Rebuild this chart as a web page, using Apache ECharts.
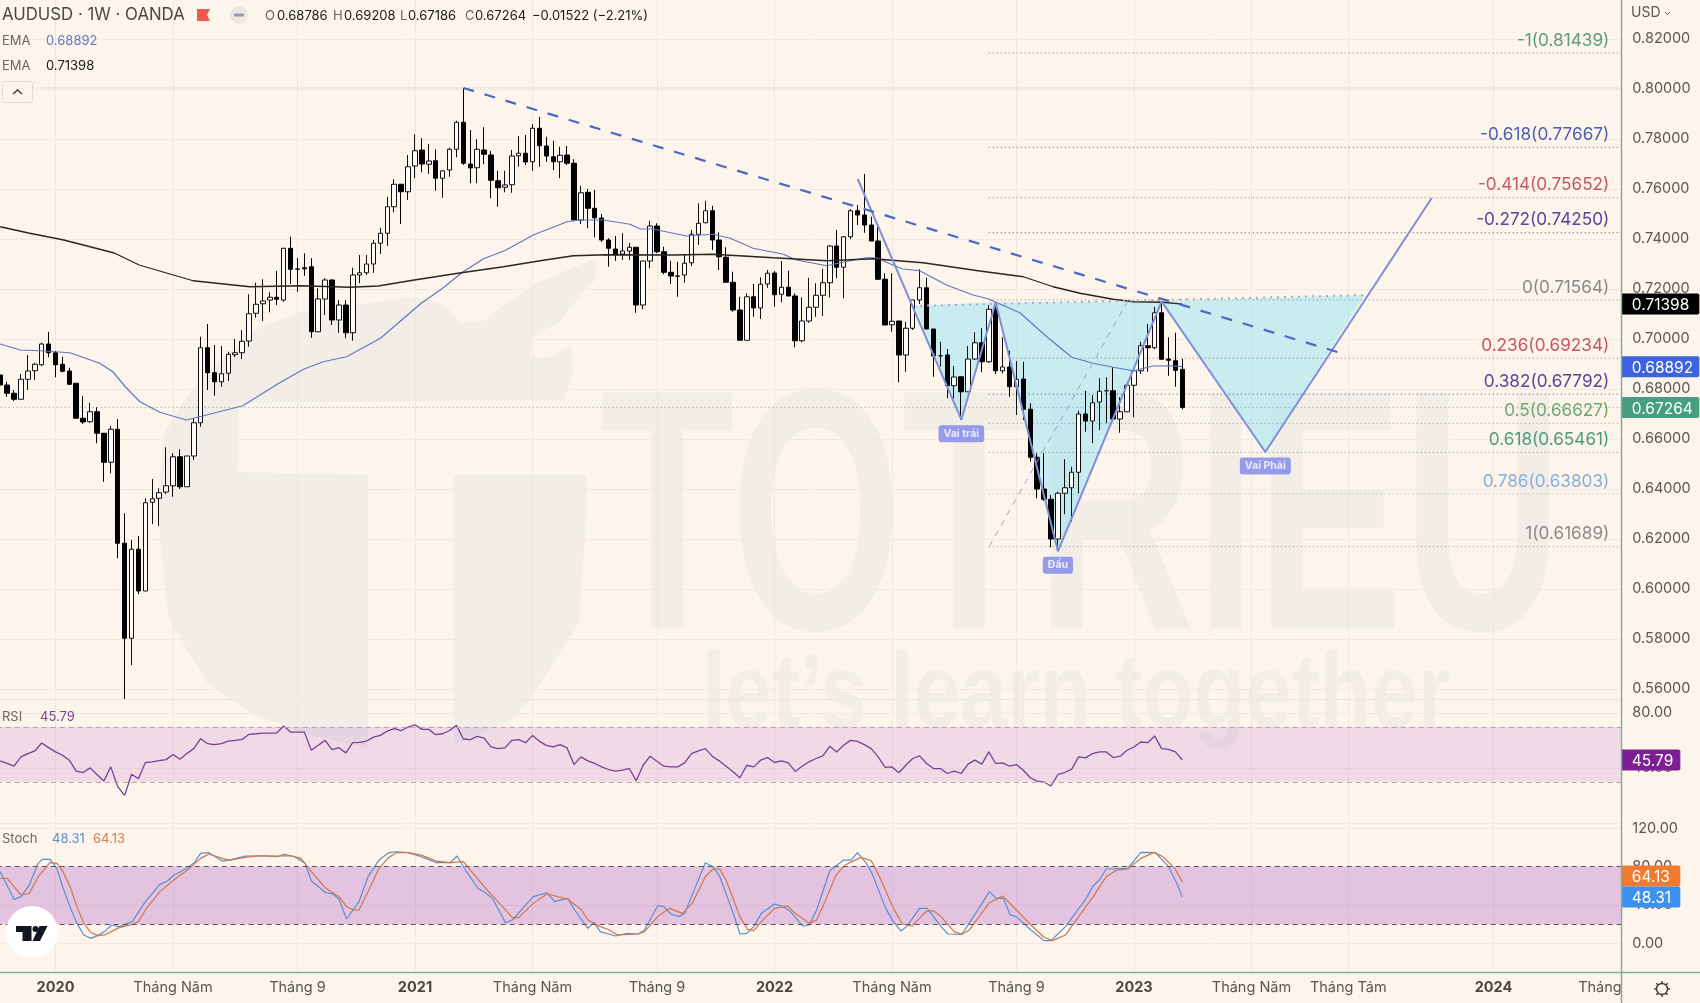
<!DOCTYPE html>
<html>
<head>
<meta charset="utf-8">
<title>AUDUSD 1W</title>
<script src="https://cdn.jsdelivr.net/npm/echarts@6/dist/echarts.min.js"></script>
<style>
  html, body { margin: 0; padding: 0; background: #fdf4eb; }
  #main { width: 1700px; height: 1003px; }
</style>
</head>
<body>
<div id="main"></div>
<script>
// weekly candles, index 0 is the first bar on screen
var opens = [.6856,.6816,.6783,.6759,.6839,.6873,.6897,.6980,.6945,.6899,
  .6872,.6823,.6683,.6669,.6709,.6623,.6507,.6639,.6183,.5803,
  .6159,.5992,.6347,.6363,.6388,.6413,.6529,.6409,.6532,.6665,
  .6965,.6865,.6829,.6863,.6937,.6945,.6992,.7103,.7141,.7156,
  .7167,.7156,.7363,.7280,.7285,.7289,.7029,.7160,.7236,.7076,
  .7136,.7025,.7256,.7265,.7300,.7383,.7423,.7529,.7619,.7589,
  .7692,.7756,.7699,.7713,.7643,.7676,.7759,.7867,.7700,.7685,
  .7756,.7736,.7633,.7607,.7617,.7733,.7743,.7709,.7843,.7772,
  .7729,.7709,.7736,.7703,.7476,.7587,.7523,.7484,.7396,.7360,
  .7340,.7352,.7367,.7136,.7312,.7452,.7349,.7267,.7252,.7256,
  .7305,.7419,.7465,.7513,.7396,.7327,.7227,.7116,.6995,.7169,
  .7124,.7220,.7264,.7179,.7207,.7172,.6993,.7072,.7127,.7175,
  .7225,.7372,.7287,.7409,.7513,.7496,.7456,.7392,.7239,.7057,
  .7072,.6936,.7043,.7156,.7205,.7040,.6933,.6936,.6813,.6849,
  .6789,.6920,.6985,.6909,.7119,.6873,.6888,.6809,.6840,.6719,
  .6527,.6400,.6359,.6200,.6383,.6405,.6467,.6700,.6672,.6748,
  .6793,.6793,.6680,.6709,.6815,.6873,.6973,.6965,.7105,.6920,
  .6913,.68786];
var closes = [.6816,.6783,.6759,.6839,.6872,.6899,.6980,.6945,.6897,.6871,
  .6819,.6683,.6668,.6709,.6623,.6507,.6639,.6183,.5803,.6159,
  .5992,.6345,.6361,.6385,.6413,.6529,.6409,.6532,.6665,.6965,
  .6865,.6829,.6861,.6939,.6945,.6991,.7101,.7139,.7152,.7167,
  .7159,.7363,.7279,.7279,.7281,.7029,.7160,.7236,.7076,.7136,
  .7025,.7256,.7265,.7300,.7383,.7423,.7529,.7619,.7589,.7689,
  .7753,.7700,.7712,.7643,.7673,.7759,.7867,.7703,.7684,.7759,
  .7739,.7635,.7605,.7616,.7732,.7743,.7708,.7843,.7773,.7732,
  .7709,.7735,.7703,.7476,.7585,.7523,.7485,.7396,.7363,.7336,
  .7352,.7367,.7136,.7312,.7452,.7349,.7267,.7252,.7251,.7303,
  .7419,.7463,.7513,.7396,.7329,.7227,.7116,.6995,.7169,.7124,
  .7219,.7263,.7177,.7207,.7172,.6993,.7072,.7127,.7175,.7225,
  .7372,.7287,.7409,.7513,.7496,.7456,.7392,.7239,.7056,.7071,
  .6936,.7043,.7156,.7205,.7040,.6932,.6933,.6813,.6848,.6789,
  .6920,.6985,.6909,.7119,.6873,.6888,.6809,.6839,.6719,.6527,
  .6400,.6359,.6200,.6383,.6405,.6467,.6700,.6672,.6745,.6791,
  .6793,.6680,.6709,.6815,.6873,.6973,.6965,.7105,.6919,.6915,
  .6875,.67264];
var highs = [.6868,.6829,.6796,.6860,.6936,.6905,.6985,.7029,.6953,.6929,
  .6885,.6823,.6772,.6745,.6727,.6623,.6652,.6680,.6303,.6196,
  .6212,.6363,.6440,.6403,.6567,.6543,.6559,.6532,.6683,.7009,
  .7060,.6976,.6972,.6949,.7000,.7036,.7179,.7225,.7239,.7187,
  .7272,.7364,.7409,.7324,.7343,.7323,.7203,.7243,.7239,.7156,
  .7156,.7285,.7336,.7336,.7396,.7445,.7569,.7639,.7620,.7736,
  .7819,.7803,.7780,.7759,.7673,.7765,.7873,.8004,.7836,.7799,
  .7847,.7752,.7673,.7673,.7756,.7812,.7816,.7860,.7889,.7809,
  .7793,.7769,.7772,.7719,.7613,.7600,.7596,.7500,.7403,.7412,
  .7423,.7385,.7368,.7312,.7473,.7463,.7369,.7313,.7309,.7336,
  .7436,.7543,.7553,.7533,.7427,.7367,.7269,.7169,.7183,.7220,
  .7247,.7276,.7272,.7312,.7273,.7183,.7167,.7245,.7223,.7281,
  .7376,.7436,.7412,.7519,.7536,.7660,.7489,.7452,.7263,.7263,
  .7072,.7069,.7156,.7279,.7245,.7040,.6989,.6960,.6892,.6849,
  .6972,.7027,.7043,.7136,.7149,.7007,.6953,.6912,.6909,.6743,
  .6543,.6543,.6376,.6389,.6519,.6489,.6713,.6793,.6776,.6843,
  .6847,.6887,.6767,.6815,.6883,.6989,.7060,.7129,.7149,.7007,
  .7025,.69208];
var lows = [.6768,.6769,.6752,.6759,.6796,.6836,.6893,.6927,.6847,.6867,
  .6816,.6683,.6660,.6665,.6583,.6429,.6463,.6123,.5559,.5696,
  .5979,.5992,.6260,.6252,.6380,.6369,.6400,.6409,.6516,.6649,
  .6796,.6773,.6809,.6832,.6927,.6920,.6969,.7085,.7072,.7107,
  .7136,.7149,.7220,.7189,.7253,.7005,.7029,.7096,.7056,.7025,
  .7003,.6993,.7223,.7256,.7265,.7340,.7372,.7507,.7460,.7556,
  .7643,.7667,.7660,.7593,.7565,.7649,.7727,.7696,.7623,.7623,
  .7699,.7563,.7529,.7587,.7585,.7689,.7696,.7673,.7689,.7709,
  .7676,.7643,.7696,.7476,.7460,.7443,.7407,.7389,.7289,.7313,
  .7316,.7316,.7105,.7119,.7283,.7343,.7259,.7220,.7169,.7225,
  .7292,.7376,.7463,.7356,.7276,.7227,.7109,.6995,.6995,.7089,
  .7080,.7205,.7129,.7147,.7172,.6967,.6987,.7065,.7089,.7092,
  .7167,.7243,.7163,.7399,.7456,.7425,.7392,.7236,.7056,.7029,
  .6827,.6869,.7036,.7140,.7040,.6849,.6889,.6763,.6763,.6676,
  .6789,.6916,.6867,.6904,.6860,.6863,.6769,.6696,.6676,.6509,
  .6363,.6353,.6167,.6164,.6299,.6269,.6383,.6629,.6583,.6636,
  .6663,.6669,.6625,.6709,.6687,.6860,.6869,.6959,.6916,.6853,
  .6809,.67186];

// EMA lines, read as [bar, value] at the bends
var ema50 = [[0,.6980],[2.9,.6956],[5.8,.6953],[10.1,.6945],[14.4,.6903],[16.3,.6869],[18.1,.6809],[20.2,.6749],[23.1,.6707],[26.9,.6676],
  [29.4,.6693],[35.1,.6733],[40.3,.6823],[43.9,.6879],[46.7,.6909],[50.1,.6929],[55,.7003],[60.9,.7143],[64,.7203],[66.9,.7268],
  [70,.7322],[73.1,.7355],[77.1,.7416],[82,.7469],[83.9,.7476],[87.2,.7476],[91.1,.7459],[92.6,.7440],[94.4,.7440],[99.3,.7412],
  [103.1,.7419],[105.6,.7403],[108.9,.7363],[113.2,.7340],[115.2,.7316],[119.6,.7293],[122.2,.7309],[125.3,.7325],[126.8,.7325],[129.1,.7296],
  [130.6,.7280],[133,.7273],[136.9,.7216],[140.7,.7176],[142.9,.7161],[147.5,.7105],[151.4,.7009],[155,.6927],[158.1,.6903],[161,.6887],
  [163.9,.6873],[166.8,.6892],[169.2,.6893],[171,.68892]];
var ema200 = [[0,.7449],[4.1,.7424],[9.2,.7396],[16.5,.7344],[20.1,.7296],[27.9,.7233],[36.1,.7209],[43.4,.7213],[50.6,.7207],[54.7,.7212],
  [59.9,.7236],[66.7,.7265],[72.8,.7289],[78.1,.7313],[82.9,.7333],[87.7,.7337],[97.3,.7336],[103.1,.7339],[111.8,.7325],[119.6,.7313],
  [126.3,.7321],[133.5,.7305],[141.7,.7272],[148,.7249],[152.3,.7209],[156.2,.7183],[161,.7159],[163.9,.7149],[168.2,.7147],[171,.71398]];

var rsi = [45.2,43.3,41.3,48.1,50.5,52.4,58.2,54.8,51.7,49.3,
  45.7,37.7,36.7,40.1,35.3,30.5,40.8,26.4,20.1,35.5,
  32.2,44,44.5,45.3,46.1,49.8,46.4,50.5,54.1,61.3,
  57.7,57,57.7,59.6,60.1,60.8,64.5,64.9,65.4,65.4,
  65.4,70.5,66.1,66.1,66.1,52.9,56.5,60.1,53.4,54.8,
  51,58.4,58.7,59.6,62.5,63.7,66.9,68.6,67.1,69.8,
  71.4,68.1,68.1,64.2,64.9,67.3,71,61.1,60.6,63,
  61.8,55.3,54.1,54.6,60.1,60.6,58.4,63.7,59.4,56.5,
  55.3,57,54.6,42.5,48.1,45.2,43.3,40.8,38.9,37.7,
  38.4,39.6,30.7,42,48.6,44.9,41.3,40.8,40.8,43.7,
  50.5,52.4,54.1,48.6,45.2,41.3,37.2,32.9,42,40.8,
  45.7,47.6,44,45.2,43.7,37.5,41.3,44.5,46.9,48.8,
  55.8,51.7,56.5,60.1,59.4,57,54.1,48.1,40.4,40.8,
  36.5,42,46.9,48.8,43.3,39.6,39.6,36,37.7,36,
  42.8,45.7,42.8,51.7,43.3,43.7,41.3,42.5,38.4,32.9,
  30.5,29.8,26.9,35.3,36.7,39.2,48.1,47.4,50.5,51.7,
  51.7,47.6,48.6,52.9,55.3,58.9,58.4,63.3,54.1,53.6,
  51.7,45.79];

var stochK = [[0,74.8],[2,46],[3,48.8],[4.2,60.9],[5.5,83.5],[6.1,87.6],[7.2,87.6],[8.2,78.3],[9.1,57.5],[10.2,36.6],
  [11.1,21],[12.1,8.9],[13.1,5.4],[14.1,8.2],[15.1,12.4],[16.1,19.3],[17.2,17.6],[19.1,22.8],[21,43.6],[23.1,61.6],
  [24.2,65.1],[25.1,71.3],[26.1,74.8],[27.1,79],[28.1,84.5],[29,93.9],[30.2,94.6],[32.1,85.9],[33.2,86.9],[35.4,91.1],
  [37.7,91.4],[40,90.4],[41.1,92.8],[42.6,90.4],[44.1,83.5],[45,65.4],[47.1,52.9],[48.1,51.6],[49,46.3],[50.1,25.5],
  [51.9,43.6],[53.2,69.6],[54.8,86.9],[56.2,94.6],[57.3,95.6],[59,94.6],[60.9,90.4],[63.1,84.2],[65.1,84.2],[66.1,91.1],
  [67.3,76.5],[69.1,57.5],[70,54],[71.2,47],[73.1,21.7],[74.1,24.5],[77.1,48.8],[79.1,52.9],[80.2,43.6],[82.1,47],
  [83.1,34.9],[85,15.8],[85.9,21.7],[86.8,12.4],[89,7.8],[90.7,10.6],[92.3,9.9],[93.2,14.1],[95.1,39.4],[96,38.4],
  [97,30.7],[98.2,28],[99,31.4],[102,84.2],[103.1,80],[104.1,69.6],[106.2,28],[107,9.9],[108,10.6],[109,17.6],
  [110.1,31.4],[112,41.1],[113.1,39.1],[114.2,34.2],[116.1,18.2],[117,19.3],[118.1,34.9],[120,75.8],[122,86.9],[123.1,86.9],
  [124,94.6],[125.3,83.5],[126.1,73.1],[128.1,36.6],[129.2,22.8],[130.3,13],[131.1,17.6],[133,36.6],[134.1,36.6],[136.1,17.6],
  [137.1,9.9],[139.1,9.6],[141.1,31.4],[143.1,54],[144.1,47],[145.1,47],[146.1,29.7],[147,28],[149.1,14.1],[151,3],
  [152,3],[154.1,17.6],[157.1,47],[158.1,59.9],[159,66.1],[160,77.6],[163.1,78.3],[165,94.9],[167.1,94.6],[169,80],
  [170.1,64.4],[171,48.31]];
var stochD = [[0,67.9],[1,67.9],[3,50.5],[4.2,52.2],[5.5,69.6],[7.2,84.2],[8.2,83.5],[9.1,74.8],[10.2,57.5],[11.1,38.4],
  [12.1,21],[13.1,11.7],[14.1,8.2],[15.1,8.9],[17.2,16.5],[19.1,20],[20,22.8],[21,34.9],[23.1,54],[25.1,66.1],
  [27.1,76.5],[29,88.7],[30.2,93.2],[32.1,88.7],[33.2,86.9],[35.4,89.7],[37.7,91.4],[40,91.1],[42.1,91.4],[43.5,88.7],
  [45,74.8],[47.1,57.5],[49,48.8],[50.1,38.4],[51.1,34.9],[51.9,34.9],[53.2,54],[54.8,78.3],[56.2,89.7],[57.3,94.6],
  [59,94.6],[60.9,92.1],[63.1,85.9],[65.1,84.2],[67,85.2],[68,76.5],[70,59.2],[72,43.6],[74.1,26.9],[75,26.9],
  [77.1,41.8],[79.1,51.6],[82.1,46.3],[84.1,34.9],[85,24.5],[86.8,17.6],[87.9,14.8],[89.3,8.9],[92.3,9.9],[93.2,12.4],
  [95.1,28],[96.8,36.6],[98.7,31.4],[100.1,41.8],[102,69.6],[103.1,77.6],[104.1,77.6],[105.1,64.4],[107,28],[108.1,14.8],
  [109,13.4],[110.1,22.8],[112,36.6],[113.9,39.1],[115,31.4],[117,21],[118.1,24.5],[119.2,41.8],[120.9,71.3],[122.2,81.7],
  [124.5,89.7],[126,86.2],[127.2,69.6],[129.2,36.6],[130.5,20.3],[131.9,18.2],[133.9,33.2],[135,34.2],[136.1,28],[138,12.4],
  [139.1,9.6],[140.2,14.1],[143.1,42.5],[145,49.5],[147,34.9],[149.1,19.3],[151,6.5],[152.2,3],[154.1,8.9],[156,28],
  [158.1,48.8],[160,69.6],[161.5,76.5],[163.1,77.6],[165,88.7],[166.9,94.9],[168.2,90.4],[169.9,78.3],[171,64.13]];

// bottom axis
var timeTicks = [8,25,43,60,77,95,112,129,147,164,181,195,216];
var timeLabels = ['2020','Tháng Năm','Tháng 9','2021','Tháng Năm','Tháng 9','2022','Tháng Năm','Tháng 9','2023','Tháng Năm','Tháng Tám','2024'];
var cutLabelTick = 231.4;
var cutLabel = 'Tháng';

// drawings
var trendLine = [[67,.80042],[193.67,.69462]];
var fibDiagonal = [[143.08,.61708],[163.2,.71568]];
var patternLine = [[124.04,.7640],[139.03,.66772],[144,.7146],[153,.61509],[168,.715],[183,.65481],[207.07,.75637]];
var neckLine = [[133.06,.71329],[197.4,.71756]];
var patternFill = [
  [[132.3,.71329],[139.03,.66772],[144,.7146]],
  [[144,.7146],[153,.61509],[168,.715]],
  [[168,.715],[183,.65481],[197.4,.71756]]
];
var patternTags = [[139.03,.66772,'Vai trái'],[153,.61509,'Đầu'],[183,.65481,'Vai Phải']];
var highLevel = .80042;
var lastClose = .67264;

var fibLevels = ['-1','-0.618','-0.414','-0.272','0','0.236','0.382','0.5','0.618','0.786','1'];
var fibPrices = [.81439,.77667,.75652,.7425,.71564,.69234,.67792,.66627,.65461,.63803,.61689];
var fibColors = ['#5c9c82','#4a60b4','#c9575f','#55489a','#8a8a8a','#c9575f','#55489a','#6fa96f','#4f9a80','#86aede','#8a8a8a'];

var priceTags = [[.71398,'#000000',0],[.68892,'#3d62e0',0],[.67264,'#479f83',0]];
var rsiTags = [[45.79,'#7b1f93',0]];
var stochTags = [[64.13,'#ef7a30',-6],[48.31,'#3c90f0',0]];

var bg = '#fdf4eb';
var gridColor = '#f3eadf';
var textColor = '#5a5652';
var font = 'Inter';
var xMin = -0.5, xMax = 234.5;

var candles = opens.map(function (o, i) { return [i, o, closes[i], lows[i], highs[i]]; });
var rsiData = rsi.map(function (v, i) { return [i, v]; });

function lineSeries(data, x, color, width, type, z) {
  return {
    type: 'line', data: data, xAxisIndex: x, yAxisIndex: x, showSymbol: false, silent: true, z: z || 3,
    lineStyle: { color: color, width: width, type: type || 'solid' }
  };
}

function tagSeries(axisIndex, tags, digits) {
  return {
    type: 'custom', xAxisIndex: axisIndex, yAxisIndex: axisIndex, z: 20, silent: true,
    data: tags.map(function (t) { return [xMax, t[0]]; }),
    renderItem: function (params, api) {
      var t = tags[params.dataIndex];
      var p = api.coord([xMax, t[0]]);
      var w = digits === 5 ? 78 : 59;
      return {
        type: 'group',
        children: [
          { type: 'rect', shape: { x: p[0], y: p[1] + t[2] - 10.5, width: w, height: 21, r: [0, 2, 2, 0] }, style: { fill: t[1] } },
          { type: 'text', style: { text: t[0].toFixed(digits), x: p[0] + 10.5, y: p[1] + t[2] + 1.5, fill: '#fff', font: '15.5px ' + font, verticalAlign: 'middle' } }
        ]
      };
    }
  };
}

var commonX = { type: 'value', min: xMin, max: xMax, show: false };

var option = {
  backgroundColor: bg,
  animation: false,
  textStyle: { fontFamily: font },
  grid: [
    { left: -3.26, top: -11, width: 1624.6, height: 750, outerBoundsMode: 'none' },
    { left: -3.26, top: 713, width: 1624.6, height: 110, outerBoundsMode: 'none' },
    { left: -3.26, top: 828.3, width: 1624.6, height: 115.2, outerBoundsMode: 'none' },
    { left: -3.26, top: 0, width: 1624.6, height: 972, outerBoundsMode: 'none' }
  ],
  xAxis: [
    Object.assign({ gridIndex: 0 }, commonX),
    Object.assign({ gridIndex: 1 }, commonX),
    Object.assign({ gridIndex: 2 }, commonX),
    {
      gridIndex: 3, type: 'value', min: xMin, max: xMax,
      axisLine: { show: false },
      axisTick: { show: false, customValues: timeTicks },
      splitLine: { show: true, lineStyle: { color: '#efe7dd', width: 1 } },
      axisLabel: {
        customValues: timeTicks.concat([cutLabelTick]),
        margin: 8, color: textColor, fontSize: 14.5, fontFamily: font,
        formatter: function (v) {
          var i = timeTicks.indexOf(v);
          if (i < 0) return cutLabel;
          return /^\d+$/.test(timeLabels[i]) ? '{y|' + timeLabels[i] + '}' : timeLabels[i];
        },
        rich: { y: { fontWeight: 'bold', fontSize: 14.5, fontFamily: font, color: '#4a4642' } }
      }
    }
  ],
  yAxis: [
    {
      gridIndex: 0, type: 'value', position: 'right', min: .54, max: .84, interval: .02,
      axisLine: { show: false }, axisTick: { show: false },
      splitLine: { show: true, showMinLine: false, showMaxLine: false, lineStyle: { color: gridColor } },
      axisLabel: {
        margin: 11, color: textColor, fontSize: 14.5, fontFamily: font, showMinLabel: false, showMaxLabel: false, padding: [4, 0, 0, 0],
        formatter: function (v) { return v.toFixed(5); }
      }
    },
    {
      gridIndex: 1, type: 'value', position: 'right', min: 0, max: 80, interval: 40,
      axisLine: { show: false }, axisTick: { show: false },
      splitLine: { show: true, lineStyle: { color: gridColor } },
      axisLabel: {
        margin: 11, color: textColor, fontSize: 14.5, fontFamily: font, showMinLabel: false, padding: [4, 0, 0, 0],
        formatter: function (v) { return v.toFixed(2); }
      }
    },
    {
      gridIndex: 2, type: 'value', position: 'right', min: 0, max: 120, interval: 40,
      axisLine: { show: false }, axisTick: { show: false },
      splitLine: { show: true, lineStyle: { color: gridColor } },
      axisLabel: {
        margin: 11, color: textColor, fontSize: 14.5, fontFamily: font, padding: [4, 0, 0, 0],
        formatter: function (v) { return v.toFixed(2); }
      }
    },
    { gridIndex: 3, type: 'value', min: 0, max: 1, show: false }
  ],
  series: [
    // pattern fill goes under the candles
    {
      type: 'custom', xAxisIndex: 0, yAxisIndex: 0, z: 1, silent: true,
      data: patternFill.map(function (t) { return t[0]; }),
      renderItem: function (params, api) {
        var pts = patternFill[params.dataIndex].map(function (p) { return api.coord(p); });
        return { type: 'polygon', shape: { points: pts }, style: { fill: 'rgba(147,228,245,0.5)' } };
      }
    },
    // fibonacci levels
    {
      type: 'custom', xAxisIndex: 0, yAxisIndex: 0, z: 1, silent: true,
      data: fibPrices.map(function (p) { return [143, p]; }),
      renderItem: function (params, api) {
        var i = params.dataIndex;
        var a = api.coord([143, fibPrices[i]]);
        var b = api.coord([xMax, fibPrices[i]]);
        return {
          type: 'group',
          children: [
            { type: 'line', shape: { x1: a[0], y1: a[1], x2: b[0], y2: b[1] }, style: { stroke: fibColors[i], lineWidth: 1, lineDash: [1, 3] } },
            { type: 'text', style: { text: fibLevels[i] + '(' + fibPrices[i].toFixed(5) + ')', x: b[0] - 12, y: a[1] - 4, align: 'right', verticalAlign: 'bottom', fill: fibColors[i], font: '17.2px ' + font } }
          ]
        };
      }
    },
    lineSeries([[4.7, highLevel], [xMax, highLevel]], 0, '#a9a59f', 1, [1, 3], 1),
    lineSeries([[xMin, lastClose], [xMax, lastClose]], 0, '#6fa98f', 1, [1, 3], 1),
    {
      type: 'candlestick', xAxisIndex: 0, yAxisIndex: 0, z: 2, silent: true, barWidth: 5,
      data: candles,
      encode: { x: 0, y: [1, 2, 3, 4] },
      itemStyle: { color: '#fffdfa', color0: '#000000', borderColor: '#111111', borderColor0: '#000000', borderWidth: 1 }
    },
    lineSeries(ema50, 0, '#5f78bf', 1.2),
    lineSeries(ema200, 0, '#2a2520', 1.3),
    lineSeries(patternLine, 0, '#7f8fd6', 2, 'solid', 4),
    lineSeries(neckLine, 0, '#9fb0c4', 2, [2, 5], 4),
    lineSeries(trendLine, 0, '#4a68c8', 2.2, [11, 11], 4),
    lineSeries(fibDiagonal, 0, '#96a3d6', 1, [6, 6], 4),
    {
      type: 'scatter', xAxisIndex: 0, yAxisIndex: 0, z: 6, silent: true, symbolSize: 1,
      itemStyle: { color: 'rgba(0,0,0,0)' },
      data: patternTags,
      label: {
        show: true, position: 'bottom', distance: 5,
        formatter: function (p) { return p.value[2]; },
        backgroundColor: '#7c84ea', color: '#fff', borderRadius: 3, padding: [3, 5], fontSize: 10.5, fontWeight: 'bold', fontFamily: font
      }
    },
    // RSI pane
    Object.assign(lineSeries(rsiData, 1, '#7b3f98', 1.3), {
      markArea: { silent: true, itemStyle: { color: 'rgba(142,36,190,0.12)' }, data: [[{ yAxis: 70 }, { yAxis: 30 }]] },
      markLine: { silent: true, symbol: 'none', label: { show: false }, lineStyle: { color: '#b5a3ad', type: [5, 4], width: 1 }, data: [{ yAxis: 70 }, { yAxis: 30 }] }
    }),
    // Stoch pane
    Object.assign(lineSeries(stochK, 2, '#5a8fd0', 1.2), {
      markArea: { silent: true, itemStyle: { color: 'rgba(142,36,190,0.23)' }, data: [[{ yAxis: 80 }, { yAxis: 20 }]] },
      markLine: { silent: true, symbol: 'none', label: { show: false }, lineStyle: { color: '#5c4f64', type: [5, 4], width: 1 }, data: [{ yAxis: 80 }, { yAxis: 20 }] }
    }),
    lineSeries(stochD, 2, '#d0774a', 1.2),
    tagSeries(0, priceTags, 5),
    tagSeries(1, rsiTags, 2),
    tagSeries(2, stochTags, 2)
  ],
  graphic: { elements: [] }
};

// watermark
var wm = '#f2eee7';
var wmElems = [
  { type: 'polygon', z: -5, shape: { points: [[164,433],[196,383],[254,330],[300,312],[414,297],[443,303],[461,323],[486,320],[504,305],[539,282],[596,258],[595,280],[579,297],[561,320],[532,338],[530,357],[550,357],[571,345],[573,373],[564,400],[239,403],[238,472],[368,475],[368,748],[310,735],[254,715],[207,683],[168,617],[157,507]] }, style: { fill: wm } },
  { type: 'polygon', z: -5, shape: { points: [[454,475],[587,475],[587,507],[579,623],[529,700],[511,720],[454,745]] }, style: { fill: wm } },
  { type: 'text', z: -5, x: 600, y: 362, scaleX: .64, style: { text: 'TOTRIEU', font: 'bold 344px "Liberation Sans"', fill: wm } },
  { type: 'text', z: -5, x: 702, y: 646, scaleX: .80, style: { text: 'let\u2019s learn together', font: 'bold 105px "Liberation Sans"', fill: wm } }
];

// header texts
function hdr(text, x, y, size, color) {
  return { type: 'text', z: 50, x: x, y: y, style: { text: text, font: size + 'px ' + font, fill: color, verticalAlign: 'middle' } };
}
var dark = '#1a1a1a', gray = '#6b6763';
var hdrElems = [
  hdr('AUDUSD \u00b7 1W \u00b7 OANDA', 2, 15, 16.8, '#4a4743'),
  { type: 'polygon', z: 50, shape: { points: [[197,9],[210,9],[207,15],[210,21],[197,21]] }, style: { fill: '#ef5a50' } },
  { type: 'circle', z: 50, shape: { cx: 239, cy: 15, r: 9 }, style: { fill: '#ece7e1' } },
  { type: 'rect', z: 50, shape: { x: 234, y: 13.5, width: 10, height: 3, r: 1 }, style: { fill: '#9a98a6' } },
  hdr('O', 265, 16, 13, gray), hdr('0.68786', 277, 16, 13, dark),
  hdr('H', 333, 16, 13, gray), hdr('0.69208', 344, 16, 13, dark),
  hdr('L', 400, 16, 13, gray), hdr('0.67186', 408, 16, 13, dark),
  hdr('C', 465, 16, 13, gray), hdr('0.67264', 475, 16, 13, dark),
  hdr('\u22120.01522 (\u22122.21%)', 532, 16, 13, dark),
  hdr('EMA', 2, 41, 13, gray), hdr('0.68892', 46, 41, 13, '#5b78c9'),
  hdr('EMA', 2, 66, 13, gray), hdr('0.71398', 46, 66, 13, dark),
  { type: 'rect', z: 50, shape: { x: 2.5, y: 81.5, width: 30, height: 21, r: 2 }, style: { fill: bg, stroke: '#e4dcd2', lineWidth: 1 } },
  { type: 'polyline', z: 51, shape: { points: [[13, 94], [17.5, 90], [22, 94]] }, style: { fill: 'none', stroke: '#3a3a3a', lineWidth: 1.5 } },
  hdr('RSI', 2, 717, 13, gray), hdr('45.79', 40, 717, 13, '#7b3f98'),
  hdr('Stoch', 2, 839, 13, gray), hdr('48.31', 52, 839, 13, '#5a8fd0'), hdr('64.13', 93, 839, 13, '#d0824f'),
  hdr('USD', 1631, 13, 14, textColor),
  { type: 'polyline', z: 51, shape: { points: [[1665, 12], [1667.5, 14.5], [1670, 12]] }, style: { fill: 'none', stroke: textColor, lineWidth: 1 } },
  // pane borders
  { type: 'line', z: 30, shape: { x1: 0, y1: 699.5, x2: 1621, y2: 699.5 }, style: { stroke: '#efe7dd', lineWidth: 1 } },
  { type: 'line', z: 30, shape: { x1: 1621.5, y1: 0, x2: 1621.5, y2: 1003 }, style: { stroke: '#7fb09a', lineWidth: 1.5 } },
  { type: 'line', z: 30, shape: { x1: 0, y1: 972.5, x2: 1700, y2: 972.5 }, style: { stroke: '#7fb09a', lineWidth: 1.5 } },
  // TradingView badge
  { type: 'circle', z: 40, shape: { cx: 32, cy: 932, r: 26 }, style: { fill: '#ffffff' } },
  { type: 'polygon', z: 41, shape: { points: [[16,926],[31.5,926],[31.5,941],[22.5,941],[22.5,932],[16,932]] }, style: { fill: '#131722' } },
  { type: 'circle', z: 41, shape: { cx: 35.5, cy: 929, r: 3 }, style: { fill: '#131722' } },
  { type: 'polygon', z: 41, shape: { points: [[39.5,926],[47.5,926],[40,941],[32.5,941]] }, style: { fill: '#131722' } },
  // settings icon
  { type: 'circle', z: 41, shape: { cx: 1662, cy: 989, r: 5.5 }, style: { fill: 'none', stroke: '#3a3a3a', lineWidth: 1.4 } }
];
for (var a = 0; a < 8; a++) {
  var ang = a * Math.PI / 4;
  hdrElems.push({ type: 'line', z: 41, shape: { x1: 1662 + 5.5 * Math.cos(ang), y1: 989 + 5.5 * Math.sin(ang), x2: 1662 + 8 * Math.cos(ang), y2: 989 + 8 * Math.sin(ang) }, style: { stroke: '#3a3a3a', lineWidth: 1.4 } });
}
option.graphic.elements = wmElems.concat(hdrElems);

var myChart = echarts.init(document.getElementById('main'));
myChart.setOption(option);
</script>
</body>
</html>
